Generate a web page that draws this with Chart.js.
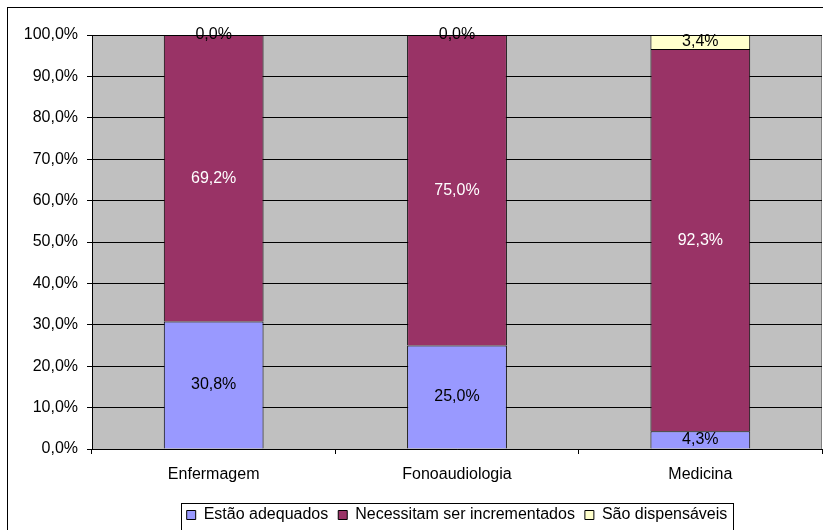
<!DOCTYPE html>
<html>
<head>
<meta charset="utf-8">
<script src="https://cdn.jsdelivr.net/npm/chart.js@4"></script>
<style>
  html, body { margin: 0; padding: 0; background: #fff; }
  #wrap { width: 823px; height: 530px; }
</style>
</head>
<body>
<div id="wrap"><canvas id="c" width="823" height="530"></canvas></div>
<script>
const categories = ['Enfermagem', 'Fonoaudiologia', 'Medicina'];
const seriesNames = ['Estão adequados', 'Necessitam ser incrementados', 'São dispensáveis'];
const adequados = [30.8, 25.0, 4.3];
const incrementar = [69.2, 75.0, 92.3];
const dispensaveis = [0.0, 0.0, 3.4];
const yTicks = [0, 10, 20, 30, 40, 50, 60, 70, 80, 90, 100];

const FONT = "'Liberation Sans', Arial, sans-serif";
const fmt = v => v.toFixed(1).replace('.', ',') + '%';
const labelColors = ['#000000', '#FFFFFF', '#000000'];

const framePlugin = {
  id: 'frame',
  beforeDraw(chart) {
    const ctx = chart.ctx, a = chart.chartArea;
    ctx.save();
    ctx.fillStyle = '#FFFFFF';
    ctx.fillRect(0, 0, chart.width, chart.height);
    ctx.strokeStyle = '#000000';
    ctx.lineWidth = 1;
    ctx.strokeRect(7.5, 7.5, 900, 600);
    ctx.fillStyle = '#C0C0C0';
    ctx.fillRect(a.left, a.top, a.right - a.left, a.bottom - a.top);
    ctx.strokeStyle = '#808080';
    ctx.beginPath();
    ctx.moveTo(Math.round(a.right) - 0.5, a.top);
    ctx.lineTo(Math.round(a.right) - 0.5, a.bottom);
    ctx.stroke();
    ctx.restore();
  },
  afterDatasetsDraw(chart) {
    const ctx = chart.ctx;
    ctx.save();
    ctx.font = '16px ' + FONT;
    ctx.textAlign = 'center';
    ctx.textBaseline = 'middle';
    chart.data.datasets.forEach((ds, di) => {
      const meta = chart.getDatasetMeta(di);
      meta.data.forEach((el, i) => {
        const v = ds.data[i];
        const y = (el.y + el.base) / 2;
        ctx.fillStyle = labelColors[di];
        ctx.fillText(fmt(v), el.x, y);
      });
    });
    ctx.restore();
  },
  afterDraw(chart) {
    const lg = chart.legend;
    if (!lg || !lg.legendHitBoxes || !lg.legendHitBoxes.length) return;
    const hb = lg.legendHitBoxes;
    let l = Infinity, r = -Infinity, t = Infinity;
    hb.forEach(h => { l = Math.min(l, h.left); r = Math.max(r, h.left + h.width); t = Math.min(t, h.top); });
    const ctx = chart.ctx;
    ctx.save();
    ctx.strokeStyle = '#000000';
    ctx.lineWidth = 1;
    ctx.strokeRect(Math.round(l - 6) + 0.5, Math.round(t - 4) + 0.5, Math.round(r - l + 11), 60);
    ctx.restore();
  }
};

new Chart(document.getElementById('c'), {
  type: 'bar',
  data: {
    labels: categories,
    datasets: [
      { label: seriesNames[0], data: adequados, backgroundColor: '#9999FF', borderColor: '#000000', borderWidth: 1 },
      { label: seriesNames[1], data: incrementar, backgroundColor: '#993366', borderColor: '#000000', borderWidth: 1 },
      { label: seriesNames[2], data: dispensaveis, backgroundColor: '#FFFFCC', borderColor: '#000000', borderWidth: 1 }
    ]
  },
  options: {
    responsive: false,
    animation: false,
    devicePixelRatio: 1,
    layout: { padding: { top: 35, right: 1, left: 0, bottom: -3 } },
    datasets: { bar: { barPercentage: 0.41, categoryPercentage: 1.0 } },
    plugins: {
      tooltip: { enabled: false },
      legend: {
        position: 'bottom',
        fullSize: false,
        labels: {
          font: { family: FONT, size: 16, lineHeight: 1 },
          color: '#000000',
          boxWidth: 9,
          boxHeight: 9,
          padding: 10
        }
      }
    },
    scales: {
      x: {
        stacked: true,
        afterFit(s) { s.height = 48; },
        grid: { display: true, offset: true, drawOnChartArea: false, drawTicks: true, tickLength: 5, color: '#000000' },
        border: { display: true, color: '#000000', width: 1 },
        ticks: { font: { family: FONT, size: 16 }, color: '#000000', padding: 11 }
      },
      y: {
        stacked: true,
        min: 0, max: 100,
        afterFit(s) { s.width = 92; },
        afterBuildTicks(s) { s.ticks = yTicks.map(v => ({ value: v })); },
        grid: { color: '#000000', lineWidth: 1, tickLength: 5, drawTicks: true },
        border: { display: true, color: '#000000', width: 1 },
        ticks: { font: { family: FONT, size: 16 }, color: '#000000', padding: 9, callback: v => fmt(v) }
      }
    }
  },
  plugins: [framePlugin]
});
</script>
</body>
</html>
